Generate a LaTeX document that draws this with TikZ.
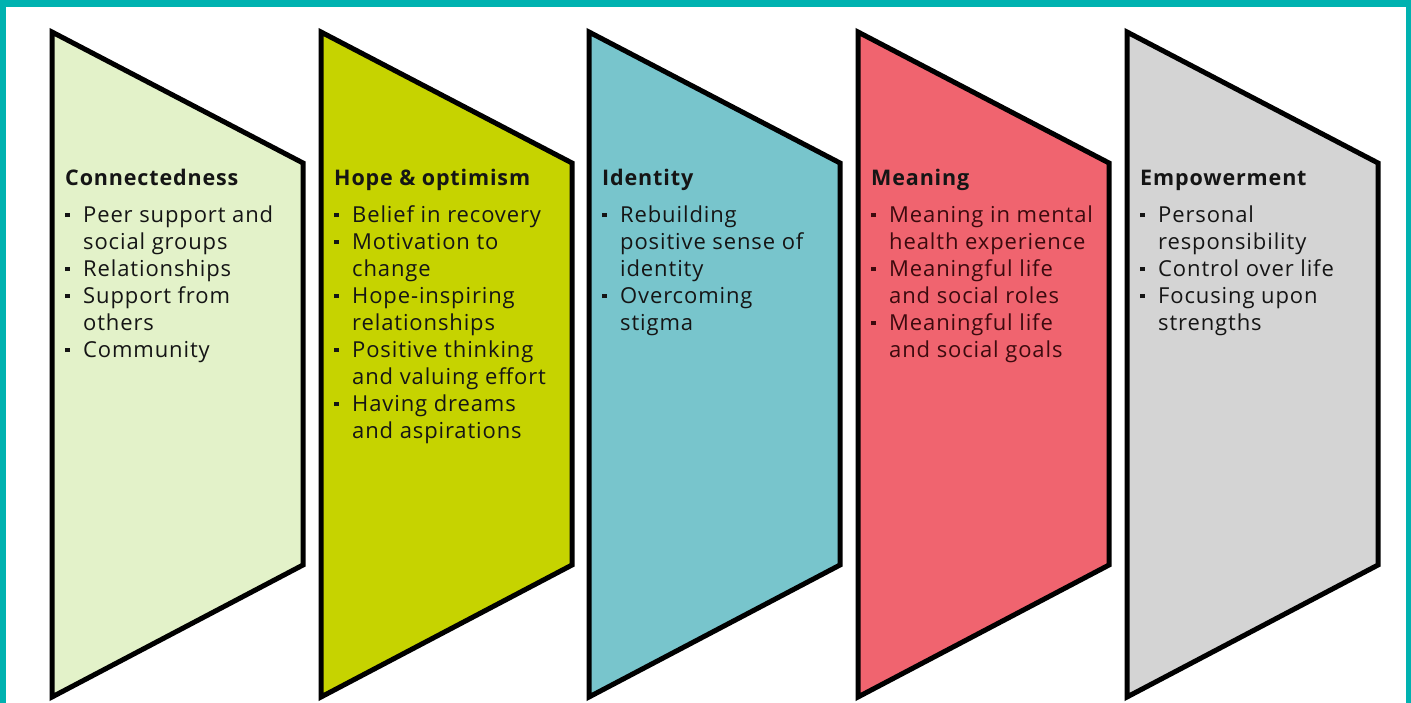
\documentclass[tikz,border=0pt]{standalone}
\usepackage{fontspec}
\setmainfont{Open Sans}[LetterSpace=4]
\definecolor{frameteal}{HTML}{00B2B0}
\definecolor{pA}{HTML}{E3F2C9}
\definecolor{pB}{HTML}{C6D300}
\definecolor{pC}{HTML}{78C5CC}
\definecolor{pD}{HTML}{F0646F}
\definecolor{pE}{HTML}{D4D4D4}
\definecolor{txt}{HTML}{151515}
\definecolor{txtred}{HTML}{3C0A0E}
\newcommand{\bul}{\rule[5pt]{4.5pt}{4.5pt}}
\newcommand{\ttl}[1]{\multicolumn{2}{@{}l@{}}{\fontsize{21.5}{27}\selectfont\bfseries #1}\\[10pt]}
\tikzset{
  panelshape/.style={line width=5pt, line join=miter, draw=black},
  ptext/.style={anchor=north west, inner sep=0pt, text=txt,
    font=\fontsize{22}{27}\selectfont}
}
\begin{document}
\begin{tikzpicture}[x=1pt,y=-1pt]
\useasboundingbox (0,0) rectangle (1411,703);
\fill[frameteal] (0,0) rectangle (1411,703);
\fill[white] (6,7) rectangle (1406,703);
\foreach \L/\c in {52/pA,321/pB,589/pC,858/pD,1127/pE}{
  \draw[panelshape, fill=\c] (\L,32) -- (\L+251,163) -- (\L+251,565) -- (\L,697) -- cycle;
}
\node[ptext] (t1) at (65,166) {\begin{tabular}{@{}p{18pt}@{}l@{}}
\ttl{Connectedness}
\bul & Peer support and\\
 & social groups\\
\bul & Relationships\\
\bul & Support from\\
 & others\\
\bul & Community
\end{tabular}};
\node[ptext] (t2) at (334,166) {\begin{tabular}{@{}p{18pt}@{}l@{}}
\ttl{Hope \& optimism}
\bul & Belief in recovery\\
\bul & Motivation to\\
 & change\\
\bul & Hope-inspiring\\
 & relationships\\
\bul & Positive thinking\\
 & and valuing effort\\
\bul & Having dreams\\
 & and aspirations
\end{tabular}};
\node[ptext] (t3) at (602,166) {\begin{tabular}{@{}p{18pt}@{}l@{}}
\ttl{Identity}
\bul & Rebuilding\\
 & positive sense of\\
 & identity\\
\bul & Overcoming\\
 & stigma
\end{tabular}};
\node[ptext, text=txtred] (t4) at (871,166) {\begin{tabular}{@{}p{18pt}@{}l@{}}
\ttl{\color{txt}Meaning}
\bul & Meaning in mental\\
 & health experience\\
\bul & Meaningful life\\
 & and social roles\\
\bul & Meaningful life\\
 & and social goals
\end{tabular}};
\node[ptext] (t5) at (1140,166) {\begin{tabular}{@{}p{18pt}@{}l@{}}
\ttl{Empowerment}
\bul & Personal\\
 & responsibility\\
\bul & Control over life\\
\bul & Focusing upon\\
 & strengths
\end{tabular}};
\end{tikzpicture}
\end{document}
